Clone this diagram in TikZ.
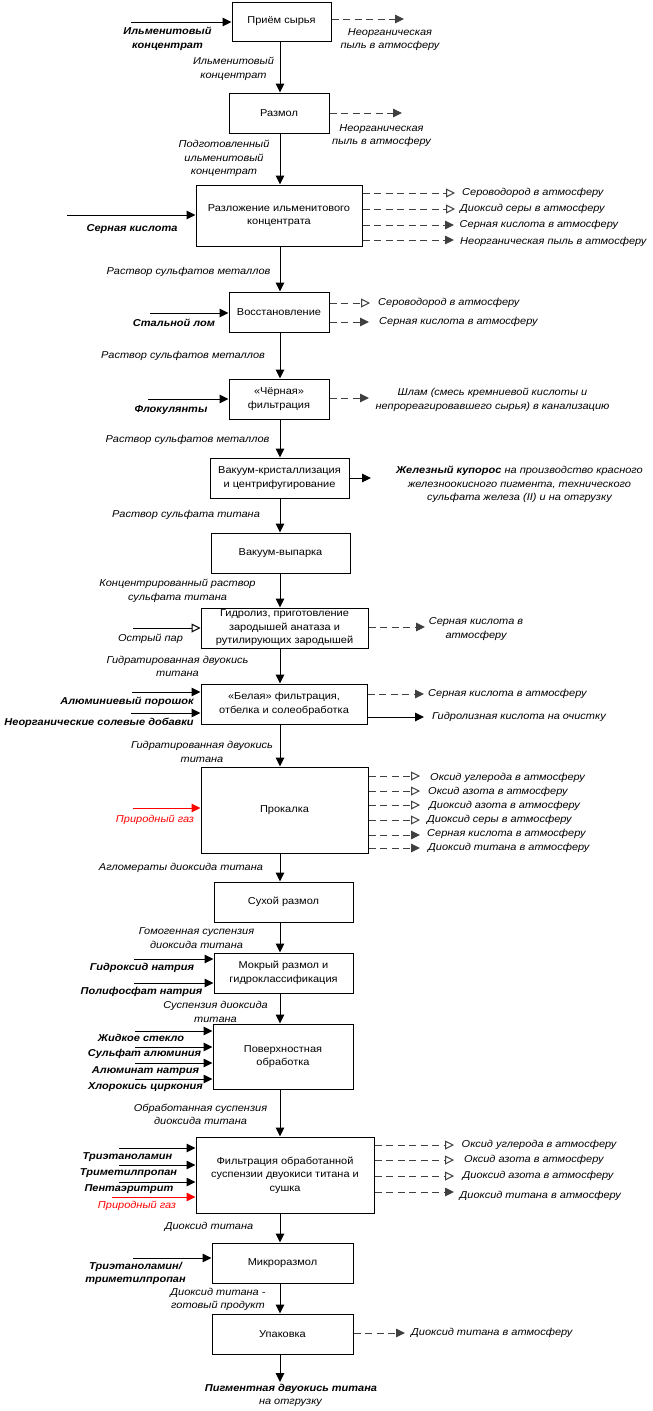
\documentclass[tikz,border=0pt]{standalone}
\usepackage{fontspec}
\setmainfont{Liberation Sans}[FakeStretch=1.1]
\usetikzlibrary{arrows.meta}
\begin{document}
\begin{tikzpicture}[x=1pt,y=-1pt,
  every node/.style={font=\fontsize{10}{13.5}\selectfont},
  box/.style={draw, line width=1pt, align=center, inner sep=1pt, font=\fontsize{10}{13.5}\selectfont},
  lbl/.style={font=\fontsize{10}{13.5}\selectfont\itshape, align=center, inner sep=0pt},
  inlbl/.style={font=\fontsize{10}{13.5}\selectfont\bfseries\itshape, align=center, inner sep=0pt},
  outlbl/.style={font=\fontsize{10}{13.5}\selectfont\itshape, anchor=west, inner sep=0pt},
  flow/.style={line width=1pt, -{Triangle[length=9pt,width=8.5pt]}},
  flowo/.style={line width=1pt, -{Triangle[open,length=9pt,width=9pt]}},
  waste/.style={line width=1pt, draw=black!75, dash pattern=on 7pt off 4.5pt, -{Triangle[length=9pt,width=8.5pt]}},
  wasteo/.style={line width=1pt, draw=black!75, dash pattern=on 7pt off 4.5pt, -{Triangle[open,length=9pt,width=9pt]}}
]
\useasboundingbox (0,0) rectangle (653,1411);
\coordinate (m) at (280,0);

% ---------- boxes
\node[box, minimum width=99pt, minimum height=39pt] (b1) at (281.5,21.5) {Приём сырья};
\node[box, minimum width=100pt, minimum height=40pt] (b2) at (279,113) {Размол};
\node[box, minimum width=166pt, minimum height=61pt] (b3) at (279,215.5) {Разложение ильменитового\\концентрата};
\node[box, minimum width=100pt, minimum height=40pt] (b4) at (279,312) {Восстановление};
\node[box, minimum width=100pt, minimum height=40pt] (b5) at (279,399) {«Чёрная»\\фильтрация};
\node[box, minimum width=139pt, minimum height=40pt] (b6) at (279.5,478) {Вакуум-кристаллизация\\и центрифугирование};
\node[box, minimum width=139pt, minimum height=40pt] (b7) at (280.5,553) {Вакуум-выпарка};
\node[box, minimum width=167pt, minimum height=40pt] (b8) at (284.5,628) {Гидролиз, приготовление\\зародышей анатаза и\\рутилирующих зародышей};
\node[box, minimum width=166pt, minimum height=40pt] (b9) at (284,704) {«Белая» фильтрация,\\отбелка и солеобработка};
\node[box, minimum width=167pt, minimum height=86pt] (b10) at (284.5,810) {Прокалка};
\node[box, minimum width=139pt, minimum height=40pt] (b11) at (283.5,902) {Сухой размол};
\node[box, minimum width=139pt, minimum height=40pt] (b12) at (283.5,973) {Мокрый размол и\\гидроклассификация};
\node[box, minimum width=140pt, minimum height=65pt] (b13) at (283,1056.5) {Поверхностная\\обработка};
\node[box, minimum width=178pt, minimum height=76pt] (b14) at (285,1175) {Фильтрация обработанной\\суспензии двуокиси титана и\\сушка};
\node[box, minimum width=141pt, minimum height=40pt] (b15) at (282.5,1263) {Микроразмол};
\node[box, minimum width=141pt, minimum height=40pt] (b16) at (282.5,1334) {Упаковка};

% ---------- main flow
\draw[flow] (b1.south -| m) -- (b2.north -| m);
\draw[flow] (b2.south -| m) -- (b3.north -| m);
\draw[flow] (b3.south -| m) -- (b4.north -| m);
\draw[flow] (b4.south -| m) -- (b5.north -| m);
\draw[flow] (b5.south -| m) -- (b6.north -| m);
\draw[flow] (b6.south -| m) -- (b7.north -| m);
\draw[flow] (b7.south -| m) -- (b8.north -| m);
\draw[flow] (b8.south -| m) -- (b9.north -| m);
\draw[flow] (b9.south -| m) -- (b10.north -| m);
\draw[flow] (b10.south -| m) -- (b11.north -| m);
\draw[flow] (b11.south -| m) -- (b12.north -| m);
\draw[flow] (b12.south -| m) -- (b13.north -| m);
\draw[flow] (b13.south -| m) -- (b14.north -| m);
\draw[flow] (b14.south -| m) -- (b15.north -| m);
\draw[flow] (b15.south -| m) -- (b16.north -| m);
\coordinate (fin) at (280,1382);
\draw[flow] (b16.south -| m) -- (fin);

% flow labels
\node[lbl] (f1) at (233.5,69) {Ильменитовый\\концентрат};
\node[lbl] (f2) at (224,158.5) {Подготовленный\\ильменитовый\\концентрат};
\node[lbl] (f3) at (188.5,272) {Раствор сульфатов металлов};
\node[lbl] (f4) at (183,356) {Раствор сульфатов металлов};
\node[lbl] (f5) at (187.5,440) {Раствор сульфатов металлов};
\node[lbl] (f6) at (186,515) {Раствор сульфата титана};
\node[lbl] (f7) at (177.5,591) {Концентрированный раствор\\сульфата титана};
\node[lbl] (f8) at (177.5,666.5) {Гидратированная двуокись\\титана};
\node[lbl] (f9) at (202,752) {Гидратированная двуокись\\титана};
\node[lbl] (f10) at (181,868) {Агломераты диоксида титана};
\node[lbl] (f11) at (196.5,938) {Гомогенная суспензия\\диоксида титана};
\node[lbl] (f12) at (215.5,1012) {Суспензия диоксида\\титана};
\node[lbl] (f13) at (200.5,1114.5) {Обработанная суспензия\\диоксида титана};
\node[lbl] (f14) at (209,1227) {Диоксид титана};
\node[lbl] (f15) at (218,1299.5) {Диоксид титана -\\готовый продукт};
\node[inlbl] (f16) at (291,1389) {Пигментная двуокись титана};
\node[lbl] (f17) at (290.5,1403) {на отгрузку};

% ---------- inputs
\coordinate (i1) at (131,22);   \draw[flow] (i1) -- (i1 -| b1.west);
\node[inlbl] (n1) at (167.5,39) {Ильменитовый\\концентрат};
\coordinate (i2) at (67,215);   \draw[flow] (i2) -- (i2 -| b3.west);
\node[inlbl] (n2) at (132,229) {Серная кислота};
\coordinate (i3) at (150,313);  \draw[flow] (i3) -- (i3 -| b4.west);
\node[inlbl] (n3) at (174,323) {Стальной лом};
\coordinate (i4) at (148,399);  \draw[flow] (i4) -- (i4 -| b5.west);
\node[inlbl] (n4) at (171,410) {Флокулянты};
\coordinate (i5) at (133,628);  \draw[flowo] (i5) -- (i5 -| b8.west);
\node[lbl] (n5) at (150.5,639) {Острый пар};
\coordinate (i6) at (132,692);  \draw[flow] (i6) -- (i6 -| b9.west);
\node[inlbl] (n6) at (127,702) {Алюминиевый порошок};
\coordinate (i7) at (131,713);  \draw[flow] (i7) -- (i7 -| b9.west);
\node[inlbl] (n7) at (99,723) {Неорганические солевые добавки};
\coordinate (i8) at (133,808);  \draw[flow, red] (i8) -- (i8 -| b10.west);
\node[lbl, text=red] (n8) at (155,820) {Природный газ};
\coordinate (i9) at (134,959);  \draw[flow] (i9) -- (i9 -| b12.west);
\node[inlbl] (n9) at (142,968) {Гидроксид натрия};
\coordinate (i10) at (134,983); \draw[flow] (i10) -- (i10 -| b12.west);
\node[inlbl] (n10) at (141.5,992) {Полифосфат натрия};
\coordinate (i11) at (135,1031); \draw[flow] (i11) -- (i11 -| b13.west);
\node[inlbl] (n11) at (141,1038) {Жидкое стекло};
\coordinate (i12) at (135,1047); \draw[flow] (i12) -- (i12 -| b13.west);
\node[inlbl] (n12) at (144.5,1054) {Сульфат алюминия};
\coordinate (i13) at (135,1063); \draw[flow] (i13) -- (i13 -| b13.west);
\node[inlbl] (n13) at (145.5,1071) {Алюминат натрия};
\coordinate (i14) at (135,1079); \draw[flow] (i14) -- (i14 -| b13.west);
\node[inlbl] (n14) at (145.5,1087) {Хлорокись циркония};
\coordinate (i15) at (119,1148); \draw[flow] (i15) -- (i15 -| b14.west);
\node[inlbl] (n15) at (127.5,1157) {Триэтаноламин};
\coordinate (i16) at (119,1165); \draw[flow] (i16) -- (i16 -| b14.west);
\node[inlbl] (n16) at (128.5,1173) {Триметилпропан};
\coordinate (i17) at (119,1182); \draw[flow] (i17) -- (i17 -| b14.west);
\node[inlbl] (n17) at (129,1189) {Пентаэритрит};
\coordinate (i18) at (112,1197); \draw[flow, red] (i18) -- (i18 -| b14.west);
\node[lbl, text=red] (n18) at (137,1206) {Природный газ};
\coordinate (i19) at (133,1258); \draw[flow] (i19) -- (i19 -| b15.west);
\node[inlbl] (n19) at (135.5,1273.5) {Триэтаноламин/\\триметилпропан};

% ---------- outputs
\coordinate (o1) at (404,19);  \draw[waste] (o1 -| b1.east) -- (o1);
\node[lbl] (t1) at (390,39.5) {Неорганическая\\пыль в атмосферу};
\coordinate (o2) at (402,113); \draw[waste] (o2 -| b2.east) -- (o2);
\node[lbl] (t2) at (381.5,135.5) {Неорганическая\\пыль в атмосферу};

\coordinate (o3) at (455,193); \draw[wasteo] (o3 -| b3.east) -- (o3);
\node[outlbl] (t3) at (462,193) {Сероводород в атмосферу};
\coordinate (o4) at (455,209); \draw[wasteo] (o4 -| b3.east) -- (o4);
\node[outlbl] (t4) at (460,209) {Диоксид серы в атмосферу};
\coordinate (o5) at (454,225); \draw[waste] (o5 -| b3.east) -- (o5);
\node[outlbl] (t5) at (459.5,225) {Серная кислота в атмосферу};
\coordinate (o6) at (454,240); \draw[waste] (o6 -| b3.east) -- (o6);
\node[outlbl] (t6) at (460,242) {Неорганическая пыль в атмосферу};

\coordinate (o7) at (370,303); \draw[wasteo] (o7 -| b4.east) -- (o7);
\node[outlbl] (t7) at (378,303) {Сероводород в атмосферу};
\coordinate (o8) at (369,322); \draw[waste] (o8 -| b4.east) -- (o8);
\node[outlbl] (t8) at (379,322) {Серная кислота в атмосферу};

\coordinate (o9) at (369,398); \draw[waste] (o9 -| b5.east) -- (o9);
\node[lbl] (t9) at (492.5,400) {Шлам (смесь кремниевой кислоты и\\непрореагировавшего сырья) в канализацию};

\coordinate (o10) at (371,478); \draw[flow] (o10 -| b6.east) -- (o10);
\node[lbl] (t10) at (519.5,484.5) {\textbf{Железный купорос} на производство красного\\железноокисного пигмента, технического\\сульфата железа (II) и на отгрузку};

\coordinate (o11) at (425,627); \draw[waste] (o11 -| b8.east) -- (o11);
\node[lbl] (t11) at (476,629) {Серная кислота в\\атмосферу};

\coordinate (o12) at (424,694); \draw[waste] (o12 -| b9.east) -- (o12);
\node[outlbl] (t12) at (428,694) {Серная кислота в атмосферу};
\coordinate (o13) at (424,717); \draw[flow] (o13 -| b9.east) -- (o13);
\node[outlbl] (t13) at (432,717) {Гидролизная кислота на очистку};

\coordinate (o14) at (420,776); \draw[wasteo] (o14 -| b10.east) -- (o14);
\node[outlbl] (t14) at (430,778) {Оксид углерода в атмосферу};
\coordinate (o15) at (420,791); \draw[wasteo] (o15 -| b10.east) -- (o15);
\node[outlbl] (t15) at (428,792) {Оксид азота в атмосферу};
\coordinate (o16) at (420,805); \draw[wasteo] (o16 -| b10.east) -- (o16);
\node[outlbl] (t16) at (429,806) {Диоксид азота в атмосферу};
\coordinate (o17) at (420,820); \draw[wasteo] (o17 -| b10.east) -- (o17);
\node[outlbl] (t17) at (427,820) {Диоксид серы в атмосферу};
\coordinate (o18) at (420,835); \draw[waste] (o18 -| b10.east) -- (o18);
\node[outlbl] (t18) at (427,834) {Серная кислота в атмосферу};
\coordinate (o19) at (420,848); \draw[waste] (o19 -| b10.east) -- (o19);
\node[outlbl] (t19) at (428,848) {Диоксид титана в атмосферу};

\coordinate (o20) at (454,1145); \draw[wasteo] (o20 -| b14.east) -- (o20);
\node[outlbl] (t20) at (461.5,1145) {Оксид углерода в атмосферу};
\coordinate (o21) at (454,1160); \draw[wasteo] (o21 -| b14.east) -- (o21);
\node[outlbl] (t21) at (464,1160) {Оксид азота в атмосферу};
\coordinate (o22) at (454,1176); \draw[wasteo] (o22 -| b14.east) -- (o22);
\node[outlbl] (t22) at (462.5,1176) {Диоксид азота в атмосферу};
\coordinate (o23) at (454,1192); \draw[waste] (o23 -| b14.east) -- (o23);
\node[outlbl] (t23) at (459.5,1196) {Диоксид титана в атмосферу};

\coordinate (o24) at (405,1333); \draw[waste] (o24 -| b16.east) -- (o24);
\node[outlbl] (t24) at (411,1333) {Диоксид титана в атмосферу};
\end{tikzpicture}
\end{document}
